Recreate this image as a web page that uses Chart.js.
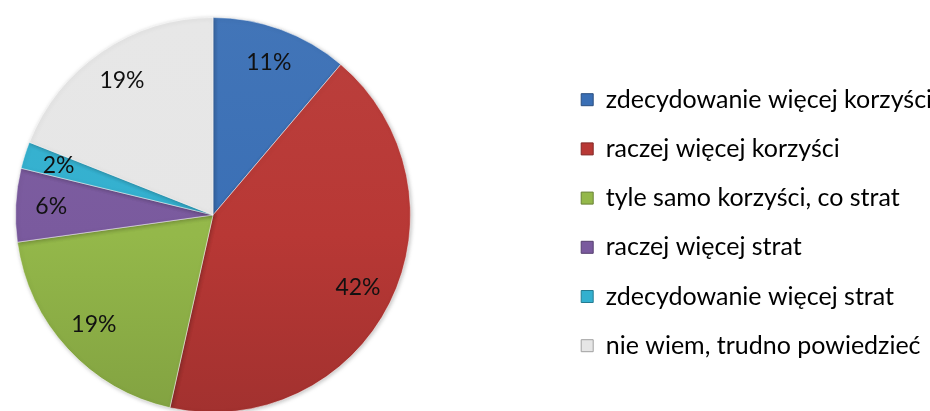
<!DOCTYPE html>
<html>
<head>
<meta charset="utf-8">
<script src="https://cdn.jsdelivr.net/npm/chart.js@4"></script>
<style>
  html, body { margin: 0; padding: 0; background: #fff; }
  #wrap { width: 930px; height: 411px; }
</style>
</head>
<body>
<div id="wrap"><canvas id="chart1" width="930" height="411"></canvas></div>
<script>
// data
const categories = [
  'zdecydowanie więcej korzyści',
  'raczej więcej korzyści',
  'tyle samo korzyści, co strat',
  'raczej więcej strat',
  'zdecydowanie więcej strat',
  'nie wiem, trudno powiedzieć'
];
const shares = [11.2, 42.3, 19.3, 6.0, 2.2, 19.0];
const shareLabels = ['11%', '42%', '19%', '6%', '2%', '19%'];
const sliceColors = ['#3a6fb5', '#b83835', '#94b84a', '#7a5a9e', '#33b0cf', '#e6e6e6'];

const FONT = 'Lato, "Open Sans", sans-serif';

// helpers
function shade(hex, amt) {
  const n = parseInt(hex.slice(1), 16);
  const f = (c) => Math.max(0, Math.min(255, Math.round(c + amt * (amt > 0 ? 255 - c : c))));
  const r = f(n >> 16), g = f((n >> 8) & 255), b = f(n & 255);
  return `rgb(${r},${g},${b})`;
}

function sliceFill(ctx) {
  const chart = ctx.chart;
  const base = sliceColors[ctx.dataIndex];
  const area = chart.chartArea;
  if (!area) return base;
  const cx = (area.left + area.right) / 2, cy = (area.top + area.bottom) / 2;
  const g = chart.ctx.createLinearGradient(cx, cy - 200, cx, cy + 200);
  g.addColorStop(0, shade(base, 0.04));
  g.addColorStop(0.55, base);
  g.addColorStop(1, shade(base, -0.12));
  return g;
}

// put the pie on the left, the legend on the right
const placePlugin = {
  id: 'place',
  afterLayout(chart) {
    chart.chartArea = { left: 14, top: 17, right: 412, bottom: 413, width: 398, height: 396 };
    const lg = chart.legend;
    const w = lg.width;
    lg.left = 557; lg.right = 557 + w;
    lg.top = 63; lg.bottom = 411;
  }
};

const labelPlugin = {
  id: 'sliceLabels',
  afterDatasetsDraw(chart) {
    const ctx = chart.ctx;
    const meta = chart.getDatasetMeta(0);
    ctx.save();
    ctx.font = `23px ${FONT}`;
    ctx.fillStyle = '#111';
    ctx.textAlign = 'center';
    ctx.textBaseline = 'middle';
    meta.data.forEach((arc, i) => {
      const p = arc.getProps(['x', 'y', 'startAngle', 'endAngle', 'outerRadius'], true);
      const mid = (p.startAngle + p.endAngle) / 2;
      const r = p.outerRadius * 0.82;
      ctx.fillText(shareLabels[i], p.x + Math.cos(mid) * r, p.y + Math.sin(mid) * r);
    });
    ctx.restore();
  }
};

const shadowPlugin = {
  id: 'pieShadow',
  beforeDatasetsDraw(chart) {
    chart.ctx.save();
    chart.ctx.shadowColor = 'rgba(0,0,0,0.25)';
    chart.ctx.shadowBlur = 4;
    chart.ctx.shadowOffsetX = 1;
    chart.ctx.shadowOffsetY = 1;
  },
  afterDatasetsDraw(chart) { chart.ctx.restore(); }
};

new Chart(document.getElementById('chart1'), {
  type: 'pie',
  data: {
    labels: categories,
    datasets: [{
      data: shares,
      backgroundColor: sliceFill,
      borderColor: 'rgba(255,255,255,0.5)',
      borderWidth: 1
    }]
  },
  options: {
    responsive: false,
    animation: false,
    plugins: {
      legend: {
        position: 'right',
        align: 'start',
        labels: {
          boxWidth: 12,
          boxHeight: 12,
          padding: 24.2,
          color: '#111',
          font: { family: FONT, size: 25 },
          generateLabels(chart) {
            return categories.map((c, i) => ({
              text: c,
              fillStyle: sliceColors[i],
              strokeStyle: shade(sliceColors[i], -0.3),
              lineWidth: 1,
              index: i
            }));
          }
        }
      },
      tooltip: { enabled: false }
    }
  },
  plugins: [placePlugin, shadowPlugin, labelPlugin]
});
</script>
</body>
</html>
